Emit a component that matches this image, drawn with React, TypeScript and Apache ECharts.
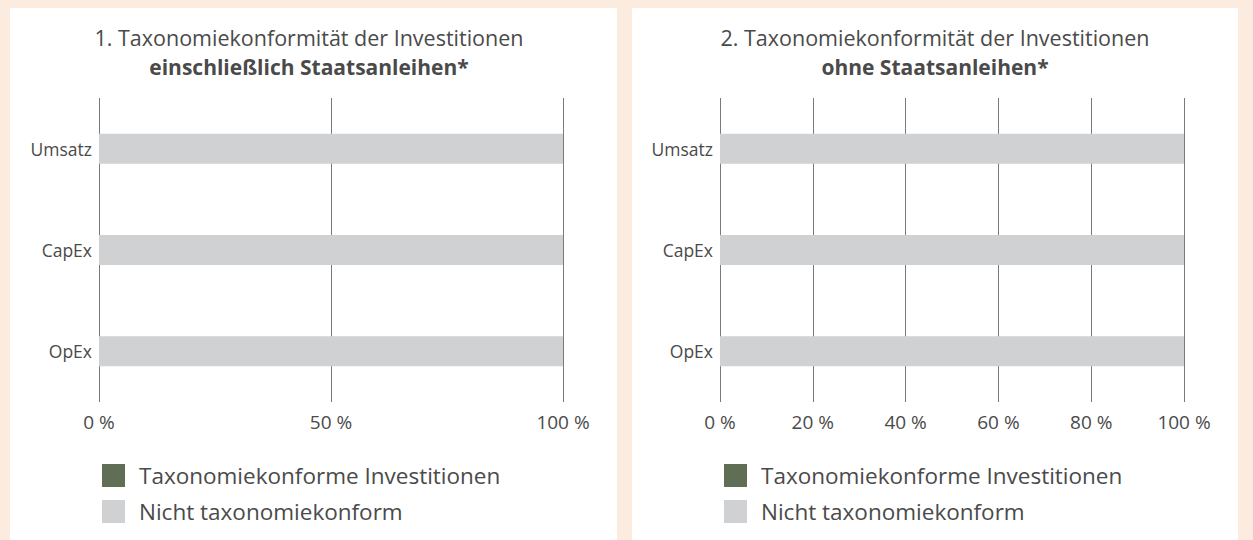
import React, { useEffect, useRef } from "react";
import * as echarts from "echarts";

const categories = ["Umsatz", "CapEx", "OpEx"];
const seriesNames = ["Taxonomiekonforme Investitionen", "Nicht taxonomiekonform"];
const leftAligned = [0, 0, 0];
const leftNotAligned = [100, 100, 100];
const rightAligned = [0, 0, 0];
const rightNotAligned = [100, 100, 100];
const leftTitle = ["1. Taxonomiekonformität der Investitionen", "einschließlich Staatsanleihen*"];
const rightTitle = ["2. Taxonomiekonformität der Investitionen", "ohne Staatsanleihen*"];
const leftInterval = 50;
const rightInterval = 20;

const FONT = "'Open Sans', sans-serif";
const TEXT = "#4a4a4a";
const GREEN = "#5f6e54";
const GRAY = "#d0d1d3";
const PEACH = "#fcebdf";

export default function App() {
  const ref = useRef<HTMLDivElement>(null);
  useEffect(() => {
    document.body.style.margin = "0";
    const chart = echarts.init(ref.current!, null, { renderer: "svg" });
    const xAxis = (gridIndex: number, interval: number) => ({
      type: "value",
      gridIndex,
      min: 0,
      max: 100,
      interval,
      axisLine: { show: false },
      axisTick: { show: false },
      splitLine: { show: true, lineStyle: { color: "#7a7a7a", width: 1 } },
      axisLabel: { formatter: "{value} %", color: TEXT, fontSize: 19, fontFamily: FONT, margin: 10 },
    });
    const yAxis = (gridIndex: number) => ({
      type: "category",
      gridIndex,
      data: categories,
      inverse: true,
      axisLine: { show: false },
      axisTick: { show: false },
      axisLabel: { color: TEXT, fontSize: 17.5, fontFamily: FONT, margin: 7 },
    });
    const bar = (name: string, data: number[], idx: number, color: string) => ({
      type: "bar",
      name,
      data,
      stack: "s" + idx,
      xAxisIndex: idx,
      yAxisIndex: idx,
      barWidth: 30,
      itemStyle: { color },
      z: 1,
    });
    const legend = (left: number) => ({
      left,
      top: 464,
      padding: 0,
      orient: "vertical",
      icon: "rect",
      itemWidth: 23,
      itemHeight: 23,
      itemGap: 13,
      data: seriesNames,
      selectedMode: false,
      textStyle: { color: TEXT, fontSize: 22.5, fontFamily: FONT, padding: [0, 0, 0, 9] },
    });
    const title = (x: number, lines: string[]) => [
      {
        type: "text",
        x,
        y: 37,
        style: { text: lines[0], textAlign: "center", textVerticalAlign: "middle", fill: TEXT, font: `21.5px ${FONT}` },
      },
      {
        type: "text",
        x,
        y: 66.5,
        style: { text: lines[1], textAlign: "center", textVerticalAlign: "middle", fill: TEXT, font: `bold 21px ${FONT}` },
      },
    ];
    chart.setOption({
      animation: false,
      backgroundColor: PEACH,
      graphic: [
        { type: "rect", shape: { x: 10, y: 8, width: 607, height: 540 }, style: { fill: "#ffffff" }, z: -10 },
        { type: "rect", shape: { x: 632, y: 8, width: 606, height: 540 }, style: { fill: "#ffffff" }, z: -10 },
        ...title(309, leftTitle),
        ...title(935, rightTitle),
      ],
      grid: [
        { left: 99, top: 98, width: 464, height: 304, containLabel: false },
        { left: 720, top: 98, width: 464, height: 304, containLabel: false },
      ],
      xAxis: [xAxis(0, leftInterval), xAxis(1, rightInterval)],
      yAxis: [yAxis(0), yAxis(1)],
      legend: [legend(102), legend(724)],
      series: [
        bar(seriesNames[0], leftAligned, 0, GREEN),
        bar(seriesNames[1], leftNotAligned, 0, GRAY),
        bar(seriesNames[0], rightAligned, 1, GREEN),
        bar(seriesNames[1], rightNotAligned, 1, GRAY),
      ],
    });
    return () => chart.dispose();
  }, []);
  return <div ref={ref} style={{ width: 1253, height: 540 }} />;
}
